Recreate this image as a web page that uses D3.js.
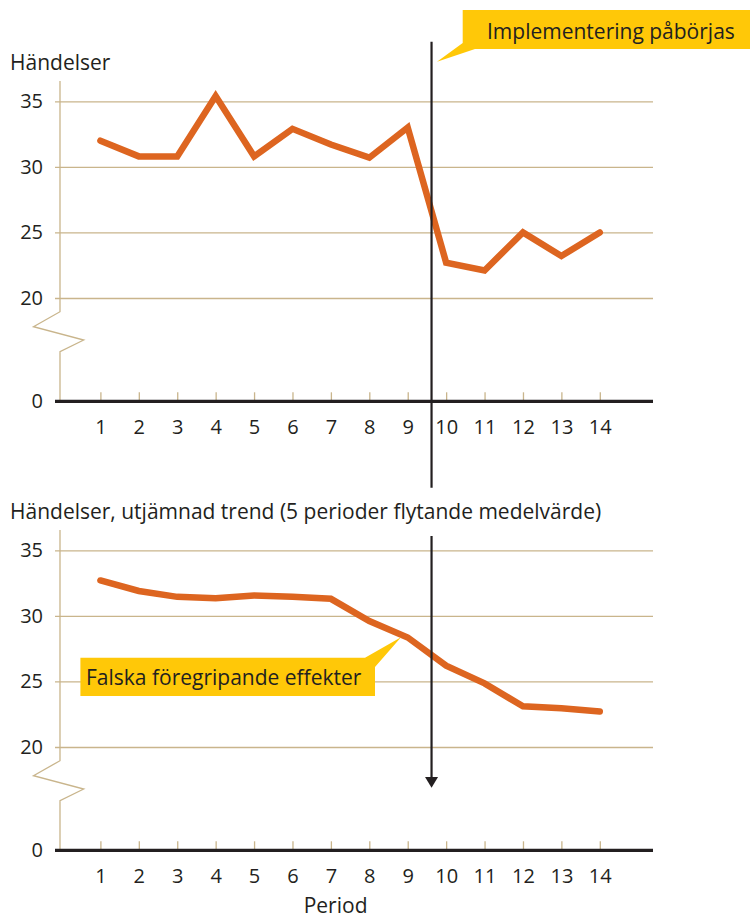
<!DOCTYPE html>
<html>
<head>
<meta charset="utf-8">
<script src="https://cdn.jsdelivr.net/npm/d3@7"></script>
<style>
  body { margin: 0; background: #fff; }
  svg text { font-family: "Open Sans", "Noto Sans", sans-serif; fill: #231f20; }
</style>
</head>
<body>
<div id="viz"></div>
<script>
// periods on the x axis
var periods = [1, 2, 3, 4, 5, 6, 7, 8, 9, 10, 11, 12, 13, 14];
// raw event counts per period
var events = [32.0, 30.8, 30.8, 35.4, 30.8, 32.9, 31.7, 30.7, 33.0, 22.7, 22.1, 25.0, 23.2, 25.0];
// smoothed trend (5 period moving average)
var trend = [32.7, 31.9, 31.45, 31.35, 31.55, 31.45, 31.3, 29.6, 28.35, 26.2, 24.85, 23.1, 22.95, 22.7];
var yTicks = [0, 20, 25, 30, 35];
var implementationAt = 9.62;   // where the vertical marker sits

var titles = ["Händelser", "Händelser, utjämnad trend (5 perioder flytande medelvärde)"];
var startLabel = "Implementering påbörjas";
var falseLabel = "Falska föregripande effekter";
var xLabel = "Period";

var W = 750, H = 918;
var PANEL_SHIFT = 449;
var AXIS_X = 60, GRID_LEFT = 55, GRID_RIGHT = 653;
var ORANGE = "#dd6520", TAN = "#c9b58c", YELLOW = "#ffc808", INK = "#231f20";

var svg = d3.select("#viz").append("svg")
  .attr("width", W)
  .attr("height", H);

var x = d3.scaleLinear().domain([1, 14]).range([100.4, 599.8]);
// broken axis: 0..20 squeezed, 20..35 at full scale
var y = d3.scaleLinear().domain([0, 20, 35]).range([401.3, 298, 101.3]);

function drawPanel(g, values, title) {
  g.append("text")
    .attr("x", 10)
    .attr("y", 69.5)
    .style("font-size", "21px")
    .text(title);

  // gridlines + y labels
  var yAxis = d3.axisLeft(y)
    .tickValues(yTicks)
    .tickSize(0)
    .tickPadding(17);
  var ya = g.append("g")
    .attr("transform", "translate(" + AXIS_X + ",0)")
    .call(yAxis);
  ya.attr("font-family", null);
  ya.select(".domain").remove();
  ya.selectAll("text")
    .style("font-size", "20px");
  ya.selectAll(".tick").filter(function(d) { return d > 0; })
    .select("line")
    .attr("x1", GRID_LEFT - AXIS_X)
    .attr("x2", GRID_RIGHT - AXIS_X)
    .attr("stroke", TAN)
    .attr("stroke-width", 1.3);

  // vertical axis with the break
  var brk = [[AXIS_X, 81], [AXIS_X, 311.7], [33.5, 326.7], [83.7, 340], [AXIS_X, 351.7], [AXIS_X, y(0)]];
  g.append("path")
    .attr("d", d3.line()(brk))
    .attr("fill", "none")
    .attr("stroke", TAN)
    .attr("stroke-width", 1.3);

  // x axis
  var xAxis = d3.axisBottom(x)
    .tickValues(periods)
    .tickSize(-9)
    .tickSizeOuter(0);
  var xa = g.append("g")
    .attr("transform", "translate(0," + y(0) + ")")
    .call(xAxis);
  xa.attr("font-family", null);
  xa.select(".domain")
    .attr("d", "M" + GRID_LEFT + ",0H" + GRID_RIGHT)
    .attr("stroke", INK)
    .attr("stroke-width", 3.2);
  xa.selectAll(".tick line")
    .attr("stroke", TAN)
    .attr("stroke-width", 1.3)
    .attr("y2", -9);
  xa.selectAll(".tick text")
    .attr("y", 33)
    .attr("dy", null)
    .style("font-size", "20px");
  // draw axis line over the ticks
  xa.select(".domain").raise();

  g.append("path")
    .datum(values)
    .attr("fill", "none")
    .attr("stroke", ORANGE)
    .attr("stroke-width", 6.5)
    .attr("stroke-linecap", "round")
    .attr("stroke-linejoin", "miter")
    .attr("d", d3.line()
      .x(function(d, i) { return x(periods[i]); })
      .y(function(d) { return y(d); }));
}

var topPanel = svg.append("g");
drawPanel(topPanel, events, titles[0]);

var bottomPanel = svg.append("g").attr("transform", "translate(0," + PANEL_SHIFT + ")");
drawPanel(bottomPanel, trend, titles[1]);

var mx = x(implementationAt);

// top marker + callout
topPanel.append("line")
  .attr("x1", mx).attr("x2", mx)
  .attr("y1", 41.7).attr("y2", 487.7)
  .attr("stroke", INK)
  .attr("stroke-width", 2.2);

topPanel.append("path")
  .attr("d", "M462.7,10H750V49H475L437,61.7L462.7,43Z")
  .attr("fill", YELLOW);
topPanel.append("text")
  .attr("x", 487)
  .attr("y", 38.5)
  .style("font-size", "21px")
  .text(startLabel);

// bottom marker with arrow
bottomPanel.append("line")
  .attr("x1", mx).attr("x2", mx)
  .attr("y1", 87).attr("y2", 330)
  .attr("stroke", INK)
  .attr("stroke-width", 2.2);
bottomPanel.append("path")
  .attr("d", "M" + (mx - 6.5) + ",328L" + (mx + 6.5) + ",328L" + mx + ",338.7Z")
  .attr("fill", INK);

bottomPanel.append("path")
  .attr("d", "M80.4,208.7H365L401,188.3L375,218V247H80.4Z")
  .attr("fill", YELLOW);
bottomPanel.append("text")
  .attr("x", 86)
  .attr("y", 235.5)
  .style("font-size", "21px")
  .text(falseLabel);

svg.append("text")
  .attr("x", 335.6)
  .attr("y", 913)
  .attr("text-anchor", "middle")
  .style("font-size", "21px")
  .text(xLabel);
</script>
</body>
</html>
